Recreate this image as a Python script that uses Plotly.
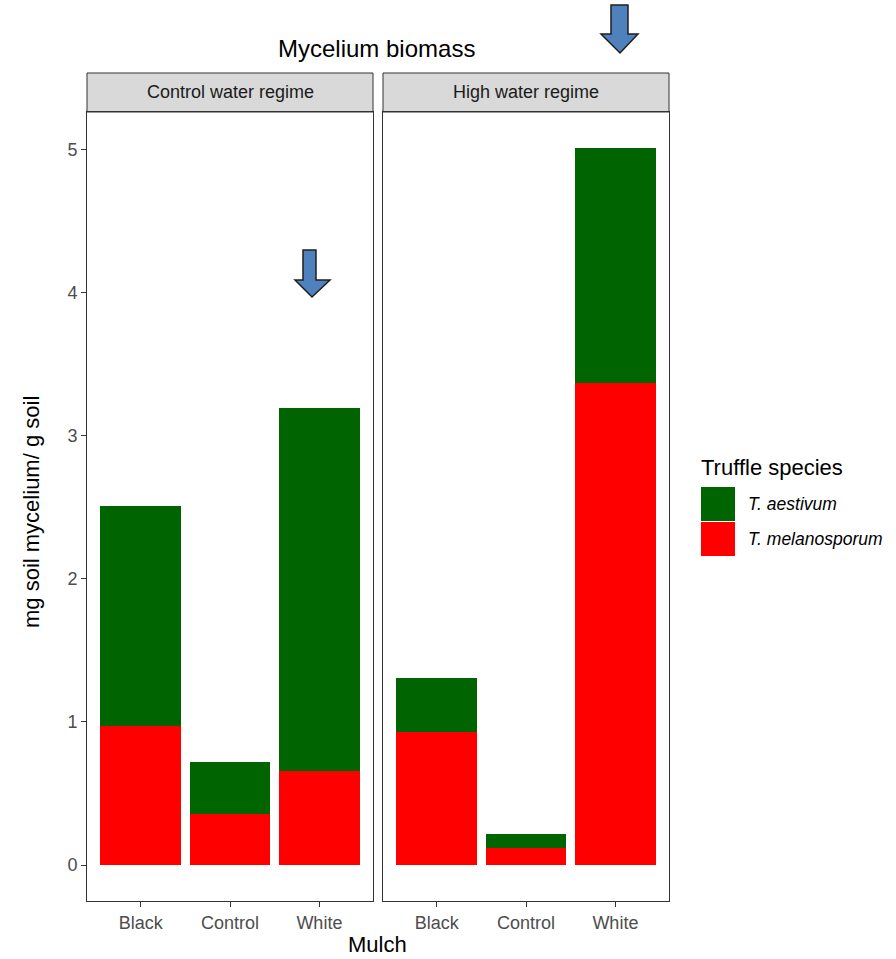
import plotly.graph_objects as go

# ---- data ----
mulch = ["Black", "Control", "White"]
regimes = ["Control water regime", "High water regime"]
melanosporum_control = [0.97, 0.36, 0.66]
aestivum_control = [1.54, 0.36, 2.53]
melanosporum_high = [0.93, 0.12, 3.37]
aestivum_high = [0.38, 0.10, 1.64]
species = ["T. aestivum", "T. melanosporum"]
y_ticks = [0, 1, 2, 3, 4, 5]

GREEN = "#006400"
RED = "#FF0000"
colors = {"T. aestivum": GREEN, "T. melanosporum": RED}

W, H = 896, 959
PL, PR, PT, PB = 87, 669, 112, 901  # plotting box in pixels
PW, PH = PR - PL, PB - PT


def px(x):
    return (x - PL) / PW


def py(y):
    return (PB - y) / PH


fig = go.Figure()

panels = [
    ("x", "y", melanosporum_control, aestivum_control),
    ("x2", "y2", melanosporum_high, aestivum_high),
]
for xa, ya, mel, aes in panels:
    fig.add_trace(go.Bar(x=mulch, y=mel, name="T. melanosporum", marker_color=RED,
                         marker_line_width=0, width=0.9, xaxis=xa, yaxis=ya, showlegend=False))
    fig.add_trace(go.Bar(x=mulch, y=aes, name="T. aestivum", marker_color=GREEN,
                         marker_line_width=0, width=0.9, xaxis=xa, yaxis=ya, showlegend=False))

FONT = "Liberation Sans, Arial, sans-serif"
TICKC = "#4D4D4D"
LINEC = "#333333"

axis_common = dict(showline=True, linecolor=LINEC, linewidth=1, mirror=True,
                   showgrid=False, zeroline=False,
                   tickfont=dict(family=FONT, size=18, color=TICKC))

d1 = [0, px(373)]
d2 = [px(383), 1]

yr = [-0.2505, 5.26]

fig.update_layout(
    width=W, height=H,
    margin=dict(l=PL, r=W - PR, t=PT, b=H - PB, pad=0),
    paper_bgcolor="white", plot_bgcolor="white",
    barmode="stack", bargap=0.1,
    showlegend=False,
    xaxis=dict(domain=d1, type="category", range=[-0.6, 2.6], ticks="outside",
               ticklen=5, tickcolor=LINEC, anchor="y", **axis_common),
    xaxis2=dict(domain=d2, type="category", range=[-0.6, 2.6], ticks="outside",
                ticklen=5, tickcolor=LINEC, anchor="y2", **axis_common),
    yaxis=dict(domain=[0, 1], range=yr, tickvals=y_ticks, ticks="outside", ticklen=5,
               tickcolor=LINEC, anchor="x", **axis_common),
    yaxis2=dict(domain=[0, 1], range=yr, tickvals=y_ticks, showticklabels=False,
                ticks="", anchor="x2", **axis_common),
)

shapes = []
annotations = []

# facet strips
for dom, label in zip([d1, d2], regimes):
    shapes.append(dict(type="rect", xref="paper", yref="paper",
                       x0=dom[0], x1=dom[1], y0=1, y1=py(73),
                       fillcolor="#D9D9D9", line=dict(color=LINEC, width=1), layer="below"))
    annotations.append(dict(xref="paper", yref="paper", x=(dom[0] + dom[1]) / 2,
                            y=(1 + py(73)) / 2, text=label, showarrow=False,
                            xanchor="center", yanchor="middle",
                            font=dict(family=FONT, size=18, color="#1A1A1A")))

# title and axis titles
annotations.append(dict(xref="paper", yref="paper", x=px(376), y=py(48), text="Mycelium biomass",
                        showarrow=False, xanchor="center", yanchor="middle",
                        font=dict(family=FONT, size=24, color="black")))
annotations.append(dict(xref="paper", yref="paper", x=px(377), y=py(944), text="Mulch",
                        showarrow=False, xanchor="center", yanchor="middle",
                        font=dict(family=FONT, size=22, color="black")))
annotations.append(dict(xref="paper", yref="paper", x=px(31), y=py(512),
                        text="mg soil mycelium/ g soil", textangle=-90,
                        showarrow=False, xanchor="center", yanchor="middle",
                        font=dict(family=FONT, size=22, color="black")))

# legend (manual)
annotations.append(dict(xref="paper", yref="paper", x=px(699), y=py(467), text="Truffle species",
                        showarrow=False, xanchor="left", yanchor="middle",
                        font=dict(family=FONT, size=22, color="black")))
key_tops = [487, 522]
for sp, top in zip(species, key_tops):
    shapes.append(dict(type="rect", xref="paper", yref="paper",
                       x0=px(701), x1=px(735), y0=py(top + 34), y1=py(top),
                       fillcolor=colors[sp], line=dict(width=0)))
    annotations.append(dict(xref="paper", yref="paper", x=px(746), y=py(top + 17),
                            text="<i>%s</i>" % sp, showarrow=False,
                            xanchor="left", yanchor="middle",
                            font=dict(family=FONT, size=17.5, color="black")))


# blue arrows (annotations from the original picture)
def arrow(sl, sr, top, head_y, hl, hr, tip_x, tip_y):
    pts = [(sl, top), (sr, top), (sr, head_y), (hr, head_y), (tip_x, tip_y),
           (hl, head_y), (sl, head_y)]
    p = "M " + " L ".join("%.5f,%.5f" % (px(a), py(b)) for a, b in pts) + " Z"
    return dict(type="path", xref="paper", yref="paper", path=p,
                fillcolor="#4F81BD", line=dict(color="#1F1F1F", width=1.5))


shapes.append(arrow(303, 316, 250, 280, 295, 330, 312, 297))
shapes.append(arrow(611, 628, 5, 34, 601, 638, 620, 53))

fig.update_layout(shapes=shapes, annotations=annotations)

fig.write_html("out.html", config={"displayModeBar": False},
               post_script="document.body.style.margin='0';document.body.style.overflow='hidden';")
